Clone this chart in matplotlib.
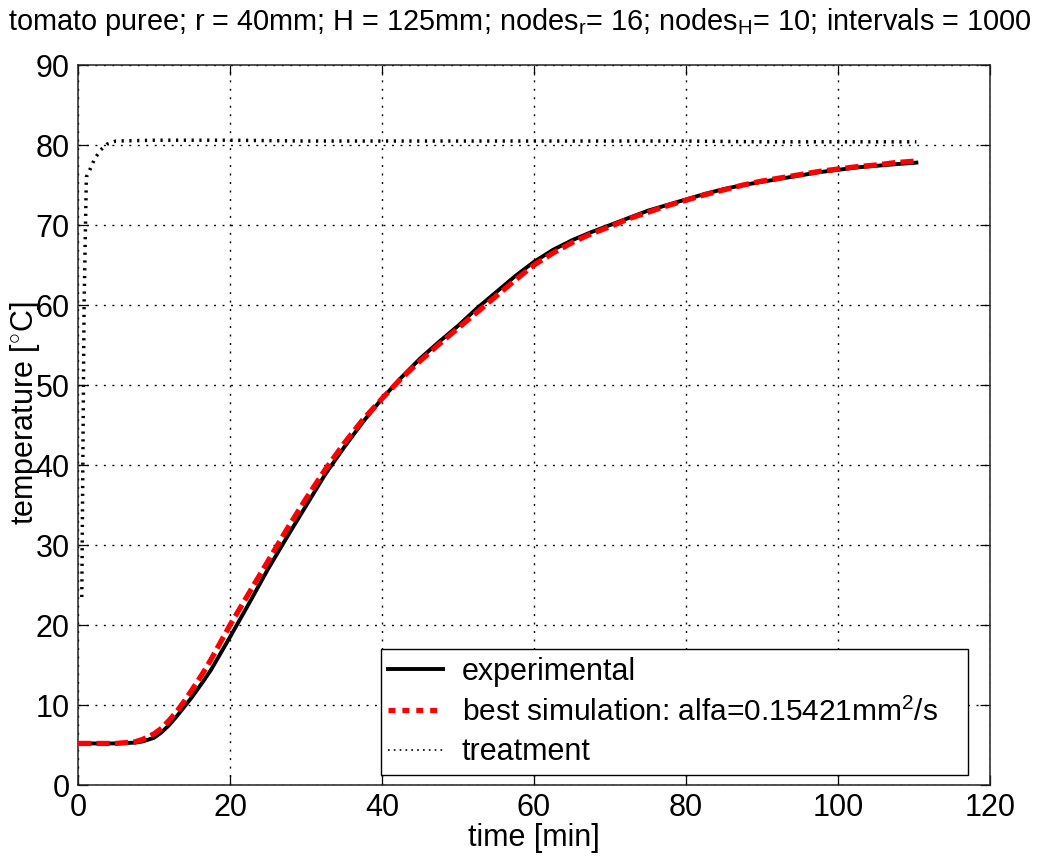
import numpy as np
import matplotlib
matplotlib.use("Agg")
import matplotlib.pyplot as plt
from matplotlib.lines import Line2D

plt.rcParams.update({
    "font.family": ["Liberation Sans", "DejaVu Sans"],
    "mathtext.fontset": "custom",
    "mathtext.rm": "Liberation Sans",
    "mathtext.it": "Liberation Sans:italic",
    "lines.scale_dashes": False,
})

# experimental core temperature [degC] vs time [min]
t_exp = [0, 2.5, 5, 7.5, 8.5, 10, 11, 12, 13, 14, 15, 16.5, 17.5, 20, 22.5, 25, 27.5,
         30, 32.5, 35, 37.5, 40, 42.5, 45, 47.5, 50, 52.5, 55, 57.5, 60, 62.5, 65,
         67.5, 70, 72.5, 75, 77.5, 80, 82.5, 85, 87.5, 90, 92.5, 95, 97.5, 100, 102.5,
         105, 107.5, 110.3]
T_exp = [5.2, 5.2, 5.2, 5.3, 5.45, 5.9, 6.6, 7.5, 8.6, 9.8, 11.0, 13.0, 14.4, 18.5,
         22.7, 27.0, 31.0, 34.9, 38.8, 42.2, 45.4, 48.3, 50.9, 53.3, 55.4, 57.4, 59.6,
         61.6, 63.6, 65.4, 66.9, 68.1, 69.1, 70.0, 70.9, 71.8, 72.5, 73.2, 73.9, 74.5,
         75.0, 75.4, 75.8, 76.2, 76.6, 76.9, 77.2, 77.4, 77.6, 77.8]

# best simulation
t_sim = t_exp
T_sim = [5.2, 5.2, 5.2, 5.4, 5.7, 6.4, 7.1, 8.1, 9.2, 10.5, 11.9, 14.1, 15.7, 20.0,
         24.0, 28.0, 32.0, 35.8, 39.4, 42.7, 45.7, 48.3, 50.8, 53.0, 55.1, 57.1, 59.1,
         61.1, 63.1, 65.0, 66.5, 67.8, 68.9, 69.8, 70.8, 71.6, 72.4, 73.1, 73.8, 74.4,
         75.0, 75.5, 75.9, 76.3, 76.7, 77.0, 77.3, 77.5, 77.8, 78.0]

# treatment (bath) temperature
t_trt = [0.5, 0.8, 1.1, 1.6, 2.2, 3.0, 3.8, 5, 10, 20, 30, 40, 50, 60, 70, 80, 90, 100, 110.3]
T_trt = [23.5, 60.0, 76.0, 77.0, 78.3, 79.4, 80.1, 80.5, 80.6, 80.6, 80.5, 80.5, 80.5,
         80.5, 80.5, 80.5, 80.4, 80.4, 80.4]

xticks = np.arange(0, 121, 20)
yticks = np.arange(0, 91, 10)

fig = plt.figure(figsize=(10.40, 8.59), dpi=100)
ax = fig.add_axes([0.075, 0.0861, 0.877, 0.8382])

ax.plot(t_trt, T_trt, color="black", lw=2.5, ls=(0, (1.6, 4.0)), zorder=3)
ax.plot(t_exp, T_exp, color="black", lw=2.8, zorder=4)
ax.plot(t_sim, T_sim, color="#ff0000", lw=3.8, ls=(0, (9.5, 3.8)), zorder=5)

ax.set_xlim(0, 120)
ax.set_ylim(0, 90)
ax.set_xticks(xticks)
ax.set_yticks(yticks)
ax.grid(True, color="black", lw=1.0, ls=(0, (1.4, 4.7)))
ax.tick_params(direction="in", length=7, width=0.9, top=True, right=True,
               labelsize=22, pad=6)
for s in ax.spines.values():
    s.set_linewidth(1.1)
    s.set_color("#222222")

ax.set_xlabel("time [min]", fontsize=22, labelpad=0)
fig.text(25 / 1040, 1 - 413 / 859, r"temperature [$^{\circ}$C]", fontsize=22,
         rotation=90, ha="center", va="center")

fig.text(520 / 1040, 1 - 30 / 859,
         r"tomato puree; r = 40mm; H = 125mm; nodes$_\mathrm{r}$= 16; "
         r"nodes$_\mathrm{H}$= 10; intervals = 1000",
         fontsize=20.8, ha="center", va="baseline")

handles = [
    Line2D([0], [0], color="black", lw=2.8),
    Line2D([0], [0], color="#ff0000", lw=3.8, ls=(0, (5, 5))),
    Line2D([0], [0], color="black", lw=1.2, ls=(0, (1.2, 3.0))),
]
labels = ["experimental", r"best simulation: alfa=0.15421mm$^2$/s", "treatment"]
leg = ax.legend(handles, labels, loc="lower left", mode="expand",
                bbox_to_anchor=(0.332, 0.0139, 0.644, 0.17),
                fontsize=22, fancybox=False, framealpha=1, edgecolor="black",
                borderpad=0.25, labelspacing=0.35, handlelength=1.8,
                handletextpad=0.6, borderaxespad=0)
leg.get_frame().set_linewidth(1.0)
leg.get_texts()[1].set_fontsize(21.5)

fig.savefig("out.png", dpi=100)
